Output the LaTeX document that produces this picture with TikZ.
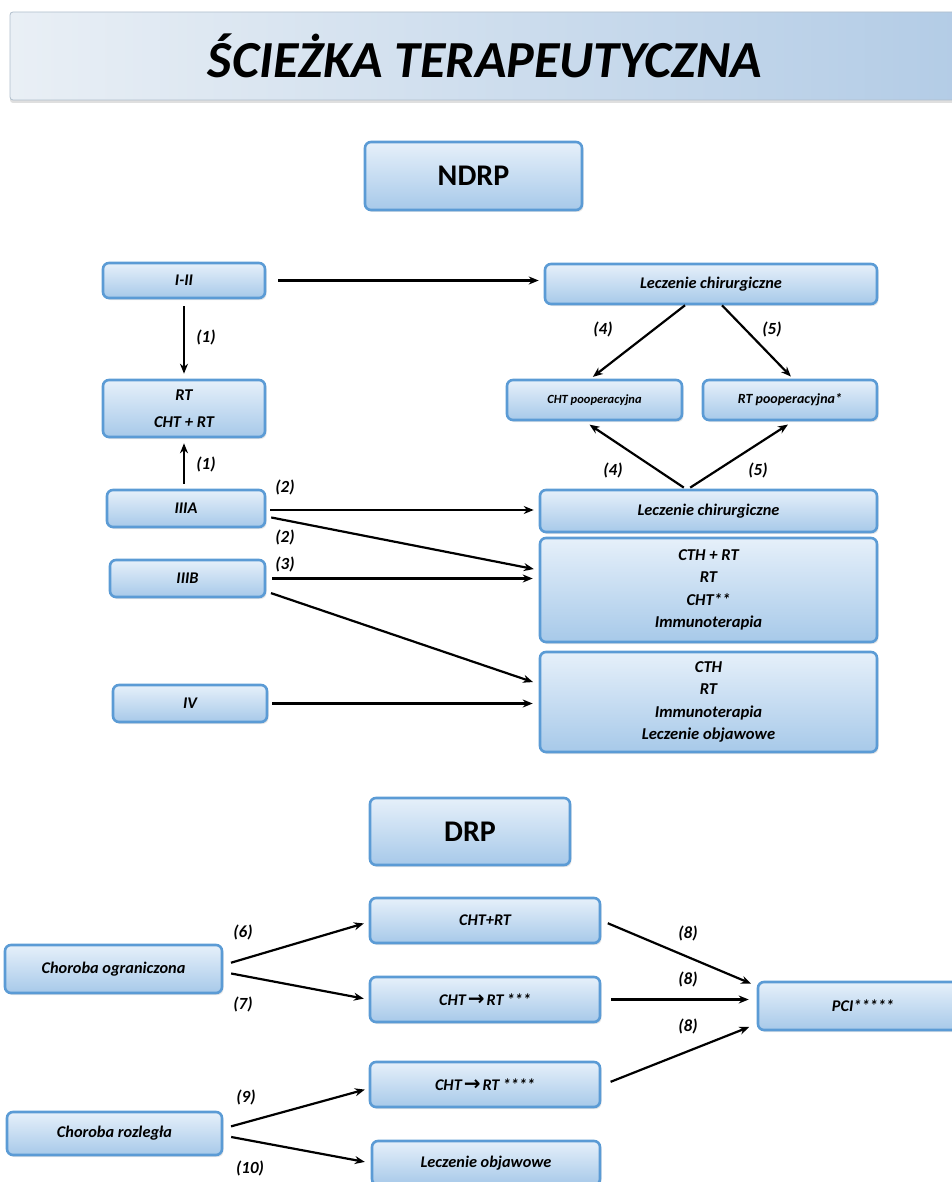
\documentclass[tikz,border=0pt]{standalone}
\usepackage{fontspec}
\setmainfont{Carlito}
\newfontfamily\arrowfont{DejaVu Sans}
\newcommand{\rarr}{{\arrowfont\bfseries\upshape\fontsize{20}{16}\selectfont\raisebox{-0.5pt}{→}}}
\usetikzlibrary{arrows.meta,shadows}
\definecolor{boxtop}{HTML}{E6F0FA}
\definecolor{boxbot}{HTML}{A7C9E9}
\definecolor{boxline}{HTML}{5B9BD5}
\definecolor{titleL}{HTML}{E9EFF5}
\definecolor{titleR}{HTML}{B3CCE6}
\definecolor{titleline}{HTML}{B0BECC}
\tikzset{
  box/.style={draw=boxline, line width=2.6pt, rounded corners=6pt,
    top color=boxtop, bottom color=boxbot, align=center, inner sep=2pt,
    font=\fontsize{16.3}{19}\selectfont\bfseries\itshape,
    drop shadow={opacity=0.2, shadow xshift=1.5pt, shadow yshift=-2pt}},
  bigbox/.style={box, font=\fontsize{16.6}{22.5}\selectfont\bfseries\itshape},
  headbox/.style={box, font=\fontsize{30}{32}\selectfont\bfseries},
  lab/.style={font=\fontsize{17}{19}\selectfont\bfseries\itshape, inner sep=0pt},
  arr/.style={-{Stealth[length=10pt,width=8pt]}, line width=2.2pt, black}
}
\begin{document}
\begin{tikzpicture}[x=1pt,y=-1pt]
\useasboundingbox (0,0) rectangle (952,1182);
% title
\node[draw=titleline, line width=0.8pt, rounded corners=3pt, left color=titleL, right color=titleR,
  minimum width=950pt, minimum height=88pt, inner sep=0pt,
  drop shadow={opacity=0.25, shadow xshift=0pt, shadow yshift=-3pt},
  font=\fontsize{52}{54}\selectfont\bfseries\itshape] (title) at (485,56) {ŚCIEŻKA TERAPEUTYCZNA};
% NDRP part
\node[headbox, minimum width=217pt, minimum height=68pt] (ndrp) at (473.5,176) {NDRP};
\node[box, minimum width=162pt, minimum height=35pt] (s12) at (184,280.5) {I-II};
\node[box, minimum width=162pt, minimum height=57pt, font=\fontsize{16.5}{27}\selectfont\bfseries\itshape] (rt) at (184,408.5) {RT\\CHT + RT};
\node[box, minimum width=158pt, minimum height=37pt] (s3a) at (186,508.5) {IIIA};
\node[box, minimum width=155pt, minimum height=37pt] (s3b) at (187.5,578.5) {IIIB};
\node[box, minimum width=154pt, minimum height=37pt] (s4) at (190,703.5) {IV};
\node[box, minimum width=332pt, minimum height=40pt] (lc1) at (711,284) {Leczenie chirurgiczne};
\node[box, minimum width=175pt, minimum height=40pt, font=\fontsize{12.5}{14}\selectfont\bfseries\itshape] (chtp) at (594.5,400) {CHT pooperacyjna};
\node[box, minimum width=174pt, minimum height=40pt, font=\fontsize{14}{16}\selectfont\bfseries\itshape] (rtp) at (790,400) {RT pooperacyjna*};
\node[box, minimum width=337pt, minimum height=42pt] (lc2) at (708.5,511) {Leczenie chirurgiczne};
\node[bigbox, minimum width=337pt, minimum height=104pt] (ba) at (708.5,590) {CTH + RT\\RT\\CHT**\\Immunoterapia};
\node[bigbox, minimum width=337pt, minimum height=100pt] (bb) at (708.5,702) {CTH\\RT\\Immunoterapia\\Leczenie objawowe};
% arrows NDRP
\draw[arr, shorten <=12pt, shorten >=5pt] (s12.east) -- (s12.east -| lc1.west);
\draw[arr, shorten <=7pt, shorten >=5pt] (s12.south) -- (rt.north);
\draw[arr, shorten <=5pt, shorten >=5pt] (rt.south |- s3a.north) -- (rt.south);
\draw[arr, shorten >=3pt] ([xshift=-26pt]lc1.south) -- ([xshift=-4pt]chtp.north);
\draw[arr, shorten >=3pt] ([xshift=11pt]lc1.south) -- ([xshift=3pt]rtp.north);
\draw[arr, shorten <=2pt, shorten >=6pt] ([xshift=-23pt]lc2.north) -- ([xshift=-10pt]chtp.south);
\draw[arr, shorten <=2pt, shorten >=6pt] ([xshift=-20pt]lc2.north) -- ([xshift=3pt]rtp.south);
\draw[arr, shorten <=4pt, shorten >=5pt] ([yshift=-1.5pt]s3a.east) -- ([yshift=-1.5pt]s3a.east -| lc2.west);
\draw[arr, shorten <=5pt, shorten >=5pt] ([yshift=-8pt]s3a.east) -- ([yshift=20pt]ba.west);
\draw[arr, shorten <=6pt, shorten >=6pt] (s3b.east) -- (s3b.east -| ba.west);
\draw[arr, shorten <=5pt, shorten >=6pt] ([yshift=-13pt]s3b.east) -- ([yshift=18pt]bb.west);
\draw[arr, shorten <=4pt, shorten >=6pt] (s4.east) -- (s4.east -| bb.west);
\node[lab] (l1a) at (206,337) {(1)};
\node[lab] (l1b) at (206,464) {(1)};
\node[lab] (l4a) at (603,329) {(4)};
\node[lab] (l5a) at (772,329) {(5)};
\node[lab] (l4b) at (613,470) {(4)};
\node[lab] (l5b) at (758,470) {(5)};
\node[lab] (l2a) at (285,487) {(2)};
\node[lab] (l2b) at (285,537) {(2)};
\node[lab] (l3) at (285,564) {(3)};
% DRP part
\node[headbox, minimum width=200pt, minimum height=67pt] (drp) at (470,831.5) {DRP};
\node[box, minimum width=217pt, minimum height=48pt] (cho) at (113.5,969) {Choroba ograniczona};
\node[box, minimum width=215pt, minimum height=43pt] (chr) at (114.5,1133.5) {Choroba rozległa};
\node[box, minimum width=230pt, minimum height=45pt] (d1) at (485,920.5) {CHT+RT};
\node[box, minimum width=230pt, minimum height=45pt] (d2) at (485,999.5) {CHT\kern2pt\rarr\kern2pt RT\kern3pt***};
\node[box, minimum width=230pt, minimum height=45pt] (d3) at (485,1084.5) {CHT\kern2pt\rarr\kern2pt RT\kern3pt****};
\node[box, minimum width=228pt, minimum height=44pt] (d4) at (486,1163) {Leczenie objawowe};
\node[box, minimum width=210pt, minimum height=48pt] (pci) at (863,1006) {PCI*****};
\draw[arr, shorten <=8pt, shorten >=5pt] ([yshift=4pt]cho.east) -- ([yshift=-1.5pt]d1.west);
\draw[arr, shorten <=8pt, shorten >=5pt] ([yshift=-3pt]cho.east) -- (d2.west);
\draw[arr, shorten <=7pt, shorten >=6pt] (d1.east) -- ([yshift=20pt]pci.west);
\draw[arr, shorten <=10pt, shorten >=8pt] (d2.east) -- (d2.east -| pci.west);
\draw[arr, shorten <=10pt, shorten >=8pt] ([yshift=-1pt]d3.east) -- ([yshift=-18pt]pci.west);
\draw[arr, shorten <=8pt, shorten >=4pt] ([yshift=5pt]chr.east) -- ([yshift=-4pt]d3.west);
\draw[arr, shorten <=8pt, shorten >=6pt] ([yshift=-2pt]chr.east) -- (d4.west);
\node[lab] (l6) at (243,932) {(6)};
\node[lab] (l7) at (243,1004) {(7)};
\node[lab] (l8a) at (688,933) {(8)};
\node[lab] (l8b) at (688,979) {(8)};
\node[lab] (l8c) at (688,1026) {(8)};
\node[lab] (l9) at (246,1097) {(9)};
\node[lab] (l10) at (250,1168) {(10)};
\end{tikzpicture}
\end{document}
